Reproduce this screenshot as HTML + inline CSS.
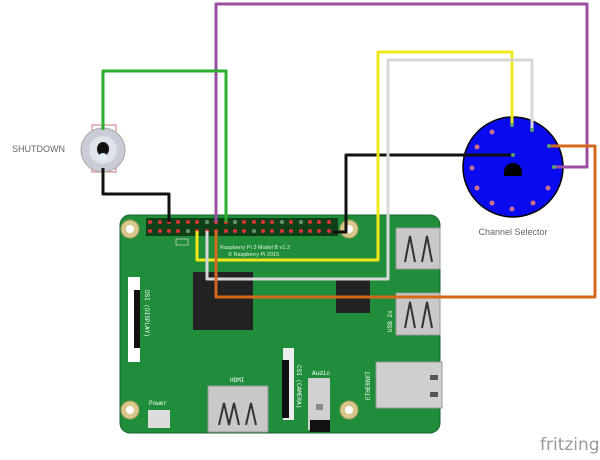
<!DOCTYPE html>
<html><head><style>
body{margin:0;background:#fff;width:600px;height:455px;overflow:hidden;font-family:"Liberation Sans",sans-serif}
</style></head><body>
<svg width="600" height="455" xmlns="http://www.w3.org/2000/svg">
<!-- board -->
<rect x="120" y="215" width="320" height="218" rx="10" fill="#1f8d3a" stroke="#16662a"/>
<g fill="#d8c98a" stroke="#a89a5e"><circle cx="130" cy="229" r="9"/><circle cx="349" cy="229" r="9"/><circle cx="130" cy="410" r="9"/><circle cx="349" cy="410" r="9"/></g>
<g fill="#fff"><circle cx="130" cy="229" r="4"/><circle cx="349" cy="229" r="4"/><circle cx="130" cy="410" r="4"/><circle cx="349" cy="410" r="4"/></g>
<rect x="146" y="218" width="192" height="18" fill="#0e3f18"/>
<g fill="#d33">
<circle cx="150" cy="222" r="2"/><circle cx="160" cy="222" r="2"/><circle cx="169" cy="222" r="2"/><circle cx="178" cy="222" r="2"/><circle cx="188" cy="222" r="2"/><circle cx="197" cy="222" r="2"/><circle cx="207" cy="222" r="2"/><circle cx="216" cy="222" r="2"/><circle cx="226" cy="222" r="2"/><circle cx="235" cy="222" r="2"/><circle cx="244" cy="222" r="2"/><circle cx="254" cy="222" r="2"/><circle cx="263" cy="222" r="2"/><circle cx="272" cy="222" r="2"/><circle cx="282" cy="222" r="2"/><circle cx="291" cy="222" r="2"/><circle cx="301" cy="222" r="2"/><circle cx="310" cy="222" r="2"/><circle cx="319" cy="222" r="2"/><circle cx="329" cy="222" r="2"/>
<circle cx="150" cy="231" r="2"/><circle cx="160" cy="231" r="2"/><circle cx="169" cy="231" r="2"/><circle cx="178" cy="231" r="2"/><circle cx="188" cy="231" r="2"/><circle cx="197" cy="231" r="2"/><circle cx="207" cy="231" r="2"/><circle cx="216" cy="231" r="2"/><circle cx="226" cy="231" r="2"/><circle cx="235" cy="231" r="2"/><circle cx="244" cy="231" r="2"/><circle cx="254" cy="231" r="2"/><circle cx="263" cy="231" r="2"/><circle cx="272" cy="231" r="2"/><circle cx="282" cy="231" r="2"/><circle cx="291" cy="231" r="2"/><circle cx="301" cy="231" r="2"/><circle cx="310" cy="231" r="2"/><circle cx="319" cy="231" r="2"/><circle cx="329" cy="231" r="2"/>
</g>
<g fill="#5a9a6a"><circle cx="188" cy="231" r="2"/><circle cx="207" cy="222" r="2"/><circle cx="235" cy="222" r="2"/><circle cx="282" cy="222" r="2"/><circle cx="301" cy="222" r="2"/><circle cx="254" cy="231" r="2"/></g>
<rect x="176" y="239" width="12" height="6" fill="none" stroke="#ccc" stroke-width="0.8"/>
<text x="220" y="249" font-size="5.5" fill="#e8f0e0">Raspberry Pi 3 Model B v1.2</text>
<text x="228" y="256" font-size="5.5" fill="#e8f0e0">© Raspberry Pi 2015</text>
<rect x="193" y="272" width="60" height="58" fill="#222"/>
<rect x="336" y="280" width="34" height="33" fill="#222"/>
<rect x="396" y="228" width="44" height="41" fill="#c8c8c8" stroke="#999"/>
<path d="M405 262 L410 236 L415 262 M422 262 L427 236 L432 262" stroke="#333" stroke-width="2" fill="none"/>
<rect x="396" y="293" width="44" height="42" fill="#c8c8c8" stroke="#999"/>
<path d="M405 328 L410 302 L415 328 M422 328 L427 302 L432 328" stroke="#333" stroke-width="2" fill="none"/>
<text x="392" y="332" font-size="6" fill="#fff" transform="rotate(-90 392 332)" font-family="Liberation Mono">USB 2x</text>
<rect x="376" y="362" width="66" height="46" fill="#cfcfcf" stroke="#999"/>
<rect x="430" y="375" width="8" height="5" fill="#555"/><rect x="430" y="392" width="8" height="5" fill="#555"/>
<text x="370" y="400" font-size="6" fill="#fff" transform="rotate(-90 370 400)" font-family="Liberation Mono">ETHERNET</text>
<rect x="128" y="277" width="12" height="85" fill="#fff"/>
<rect x="134" y="290" width="6" height="58" fill="#111"/>
<text x="145" y="290" font-size="6" fill="#fff" transform="rotate(90 145 290)" font-family="Liberation Mono">DSI (DISPLAY)</text>
<rect x="283" y="348" width="11" height="72" fill="#eee"/>
<rect x="282" y="360" width="7" height="58" fill="#111"/>
<text x="297" y="365" font-size="6" fill="#fff" transform="rotate(90 297 365)" font-family="Liberation Mono">CSI (CAMERA)</text>
<text x="312" y="375" font-size="6" fill="#fff" font-family="Liberation Mono">Audio</text>
<rect x="308" y="378" width="22" height="52" fill="#d0d0d0"/>
<rect x="310" y="420" width="20" height="12" fill="#111"/>
<rect x="316" y="404" width="7" height="6" fill="#888"/>
<text x="230" y="382" font-size="6" fill="#fff" font-family="Liberation Mono">HDMI</text>
<rect x="208" y="386" width="60" height="46" fill="#c8c8c8" stroke="#999"/>
<path d="M219 425 L224 403 L229 425 L234 403 L239 425 M246 425 L251 403 L256 425" stroke="#333" stroke-width="2" fill="none"/>
<text x="149" y="405" font-size="6" fill="#fff" font-family="Liberation Mono">Power</text>
<rect x="148" y="410" width="22" height="18" fill="#ddd"/>
<!-- switch -->
<rect x="92" y="125" width="24" height="47" fill="none" stroke="#c77" stroke-width="1"/>
<circle cx="103" cy="150" r="22" fill="#c9cbd6" stroke="#aaa"/>
<circle cx="103" cy="150" r="14" fill="#e0e2ea"/>
<ellipse cx="103" cy="149" rx="6" ry="7" fill="#111"/>
<circle cx="103" cy="157" r="4" fill="#dfeff5"/>
<text x="12" y="152" font-size="9" fill="#666">SHUTDOWN</text>
<!-- selector -->
<circle cx="513" cy="167" r="50" fill="#0a0aee" stroke="#000" stroke-width="1.5"/>
<path d="M504 172 a9 9 0 0 1 18 0 v4 h-18z" fill="#000"/>
<g fill="#c87090"><circle cx="492" cy="132" r="2.5"/><circle cx="477" cy="147" r="2.5"/><circle cx="472" cy="168" r="2.5"/><circle cx="477" cy="188" r="2.5"/><circle cx="492" cy="203" r="2.5"/><circle cx="512" cy="209" r="2.5"/><circle cx="533" cy="203" r="2.5"/><circle cx="548" cy="188" r="2.5"/></g>
<text x="513" y="235" font-size="9" fill="#666" text-anchor="middle">Channel Selector</text>
<!-- wires -->
<g fill="none" stroke-width="3" stroke-linejoin="round">
<polyline points="216,222 216,4 587,4 587,167 554,167" stroke="#9b4fa0"/>
<polyline points="226,222 226,71 103,71 103,130" stroke="#2ab02e"/>
<polyline points="103,168 103,194 169,194 169,222" stroke="#111"/>
<polyline points="333,232 346,232 346,155 513,155" stroke="#111"/>
<polyline points="197,231 197,260 378,260 378,52 512,52 512,125" stroke="#f0e81a"/>
<polyline points="207,231 207,279 388,279 388,60 532,60 532,130" stroke="#d8d8d8"/>
<polyline points="216,231 216,297 595,297 595,146 549,146" stroke="#d4691c"/>
</g>
<g fill="#5aa06a"><circle cx="512" cy="125" r="2"/><circle cx="532" cy="130" r="2"/><circle cx="513" cy="155" r="2"/><circle cx="549" cy="146" r="2"/><circle cx="554" cy="167" r="2"/></g>
<text x="540" y="450" font-size="17" fill="#999" font-family="DejaVu Sans">fritzing</text>
</svg>
</body></html>
